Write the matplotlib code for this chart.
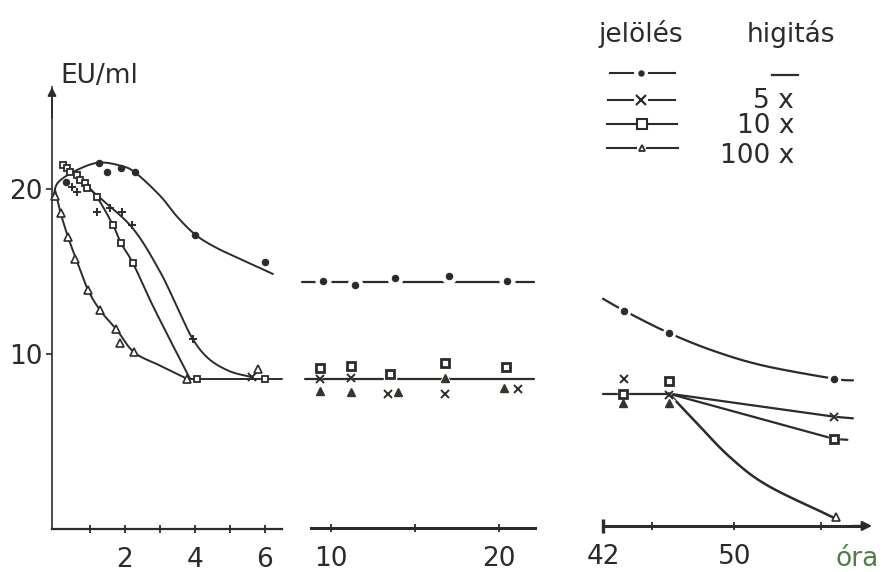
import numpy as np
import matplotlib
matplotlib.use("Agg")
import matplotlib.pyplot as plt

plt.rcParams['font.family'] = ['DejaVu Sans']

FS = 19
INK = '#2a2c28'
GREEN = '#4f7d45'
W, H = 888, 572

# ---------------- measured values: time (óra) and EU/ml ----------------
# undiluted sample (filled circles)
und_t_a = [0.3, 1.25, 1.5, 1.9, 2.3, 4.0, 6.0]
und_v_a = [20.4, 21.6, 21.0, 21.3, 21.0, 17.2, 15.6]
und_t_b = [9.5, 11.4, 13.8, 17.0, 20.5]
und_v_b = [14.4, 14.2, 14.6, 14.7, 14.4]
und_t_c = [43.3, 46.0, 56.1]
und_v_c = [12.6, 11.3, 8.5]

# 5x dilution (crosses)
d5_t_a = [0.5, 0.63, 1.2, 1.57, 1.91, 2.2, 3.94, 5.63]
d5_v_a = [20.1, 19.8, 18.6, 18.85, 18.6, 17.8, 10.9, 8.6]
d5_t_b = [9.35, 11.2, 13.4, 16.8, 21.1]
d5_v_b = [8.5, 8.55, 7.6, 7.6, 7.9]
d5_t_c = [43.3, 46.0, 56.1]
d5_v_c = [8.5, 7.5, 6.2]

# 10x dilution (squares)
d10_t_a = [0.23, 0.34, 0.43, 0.63, 0.71, 0.86, 0.91, 1.2, 1.66, 1.89, 2.23, 4.06, 6.0]
d10_v_a = [21.45, 21.3, 21.0, 20.85, 20.55, 20.35, 20.05, 19.5, 17.8, 16.7, 15.5, 8.5, 8.5]
d10_t_b = [9.35, 11.2, 13.5, 16.8, 20.4]
d10_v_b = [9.15, 9.3, 8.8, 9.45, 9.2]
d10_t_c = [43.2, 46.0, 56.1]
d10_v_c = [7.6, 8.35, 4.85]

# 100x dilution (triangles)
d100_t_a = [0.0, 0.17, 0.37, 0.57, 0.94, 1.29, 1.74, 1.86, 2.26, 3.77, 5.8]
d100_v_a = [19.6, 18.55, 17.1, 15.75, 13.9, 12.65, 11.5, 10.65, 10.1, 8.5, 9.1]
d100_t_b = [9.35, 11.2, 14.0, 16.8, 20.3]
d100_v_b = [7.75, 7.7, 7.7, 8.55, 7.95]
d100_t_c = [43.2, 46.0, 56.2]
d100_v_c = [7.0, 7.0, 0.1]

# ---------------- hand-drawn trend curves (node points) ----------------
und_curve_t_a = [-0.05, 0.09, 0.63, 1.26, 1.89, 2.29, 3.0, 3.5, 4.03, 4.6, 5.2, 6.23]
und_curve_v_a = [19.5, 20.4, 21.15, 21.6, 21.4, 21.0, 19.6, 18.3, 17.2, 16.45, 15.85, 14.85]
d5_curve_t_a = [0.71, 1.29, 2.23, 3.0, 3.5, 3.94, 4.4, 5.0, 5.63]
d5_curve_v_a = [20.5, 19.45, 17.6, 15.0, 12.8, 10.9, 9.7, 8.95, 8.6]
d10_curve_t_a = [0.71, 1.2, 1.66, 1.89, 2.23, 2.71, 3.29, 3.86]
d10_curve_v_a = [20.7, 19.5, 17.8, 16.7, 15.5, 13.3, 10.85, 8.5]
d100_curve_t_a = [0.0, 0.14, 0.37, 0.63, 0.94, 1.29, 1.77, 2.26, 3.0, 3.77]
d100_curve_v_a = [19.95, 18.7, 17.1, 15.6, 13.9, 12.65, 11.45, 10.1, 9.3, 8.5]
plateau_t_a = [3.77, 6.5]
plateau_v_a = [8.5, 8.5]

upper_t_b = [8.27, 22.1]
upper_v_b = [14.35, 14.35]
lower_t_b = [8.45, 22.1]
lower_v_b = [8.5, 8.5]

und_curve_t_c = [42.0, 43.34, 45.96, 48.71, 51.76, 56.09, 57.24]
und_curve_v_c = [13.35, 12.6, 11.3, 10.2, 9.3, 8.5, 8.4]
lower_t_c = [42.0, 46.0]
lower_v_c = [7.6, 7.6]
d5_curve_t_c = [46.0, 56.1, 57.24]
d5_curve_v_c = [7.6, 6.2, 6.1]
d10_curve_t_c = [46.0, 56.1, 56.9]
d10_curve_v_c = [7.6, 4.85, 4.8]
d100_curve_t_c = [46.02, 47.73, 49.74, 52.0, 56.02]
d100_curve_v_c = [7.6, 5.8, 3.75, 2.05, 0.1]

# axis ticks
ticks_a = [1, 2, 3, 4, 5, 6]
labels_a = ['', '2', '', '4', '', '6']
ticks_b = [10, 15, 20]
labels_b = ['10', '', '20']
ticks_c = [42, 45, 50, 55.3]
labels_c = ['42', '', '50', '']
yticks = [10, 20]


def smooth(t, v, n=24):
    """Catmull-Rom curve through the given nodes."""
    P = np.column_stack([np.asarray(t, float), np.asarray(v, float)])
    if len(P) < 3:
        return P[:, 0], P[:, 1]
    P = np.vstack([2 * P[0] - P[1], P, 2 * P[-1] - P[-2]])
    s = np.linspace(0, 1, n, endpoint=False)[:, None]
    out = []
    for i in range(1, len(P) - 2):
        p0, p1, p2, p3 = P[i - 1], P[i], P[i + 1], P[i + 2]
        out.append(0.5 * (2 * p1 + (-p0 + p2) * s
                          + (2 * p0 - 5 * p1 + 4 * p2 - p3) * s ** 2
                          + (-p0 + 3 * p1 - 3 * p2 + p3) * s ** 3))
    out.append(P[-2][None, :])
    out = np.vstack(out)
    return out[:, 0], out[:, 1]


def curve(ax, t, v, lw=1.4, straight=False):
    x, y = (t, v) if straight else smooth(t, v)
    ax.plot(x, y, color=INK, lw=lw, solid_capstyle='round', zorder=2, clip_on=False)


MARK = {
    'dot': dict(marker='o', ms=4.6, mfc=INK, mec=INK, mew=0.8),
    'x': dict(marker='x', ms=5.2, mfc='none', mec=INK, mew=1.4),
    'plus': dict(marker='+', ms=6.0, mfc='none', mec=INK, mew=1.4),
    'sq': dict(marker='s', ms=5.0, mfc='white', mec=INK, mew=1.3),
    'sqb': dict(marker='s', ms=5.6, mfc='white', mec=INK, mew=2.0),
    'tri': dict(marker='^', ms=5.6, mfc='white', mec=INK, mew=1.2),
    'trif': dict(marker='^', ms=5.6, mfc='#2f3a2c', mec='#2f3a2c', mew=1.0),
}


def marks(ax, t, v, kind, halo=0.0):
    if halo:
        ax.plot(t, v, ls='none', marker=MARK[kind]['marker'], ms=MARK[kind]['ms'] + halo,
                mfc='white', mec='white', zorder=3, clip_on=False)
    ax.plot(t, v, ls='none', zorder=4, clip_on=False, **MARK[kind])


def px_box(x0, y0, x1, y1):
    return [x0 / W, 1 - y1 / H, (x1 - x0) / W, (y1 - y0) / H]


fig = plt.figure(figsize=(W / 100, H / 100), dpi=100)
fig.patch.set_facecolor('white')

YLIM = (-0.606, 26.18)

axA = fig.add_axes(px_box(52, 87, 282, 529))
axB = fig.add_axes(px_box(301, 87, 535, 529))
axC = fig.add_axes(px_box(600, 87, 872, 529))
axA.set_xlim(-0.086, 6.49)
axB.set_xlim(8.21, 22.14)
axC.set_xlim(41.82, 58.4)

for ax in (axA, axB, axC):
    ax.set_ylim(*YLIM)
    ax.patch.set_alpha(0)
    for side in ('top', 'right', 'left'):
        ax.spines[side].set_visible(False)
    ax.spines['bottom'].set_color(INK)
    ax.tick_params(axis='x', direction='inout', length=6, width=1.3, colors=INK,
                   labelsize=FS, labelcolor=INK, pad=10)
    ax.set_yticks([])

# left panel axes
axA.spines['left'].set_visible(True)
axA.spines['left'].set_color(INK)
axA.spines['left'].set_linewidth(1.2)
axA.spines['bottom'].set_linewidth(1.6)
axA.set_yticks(yticks)
axA.tick_params(axis='y', direction='out', length=4, width=1.2, colors=INK,
                labelsize=FS, labelcolor=INK, pad=3)
axA.set_xticks(ticks_a, labels_a)
axA.annotate('', xy=(0, 1.0), xycoords='axes fraction', xytext=(0, 0.93),
             arrowprops=dict(arrowstyle='-|>', lw=1.2, color=INK, mutation_scale=13,
                             shrinkA=0, shrinkB=0))

# middle panel axes
axB.spines['bottom'].set_position(('data', -0.55))
axB.spines['bottom'].set_bounds(8.81, 22.14)
axB.spines['bottom'].set_linewidth(2.2)
axB.set_xticks(ticks_b, labels_b)

# right panel axes
axC.spines['bottom'].set_position(('data', -0.42))
axC.spines['bottom'].set_bounds(42.0, 57.6)
axC.spines['bottom'].set_linewidth(2.2)
axC.set_xticks(ticks_c, labels_c)
axC.get_xticklines()[-2].set_color(GREEN)
axC.plot([42.0], [-0.42], marker='|', ms=10, mew=2.4, color=INK, clip_on=False)
axC.annotate('', xy=(58.4, -0.42), xytext=(57.2, -0.42),
             arrowprops=dict(arrowstyle='-|>', lw=1.6, color=INK, mutation_scale=14,
                             shrinkA=0, shrinkB=0), annotation_clip=False)

# ---- left panel: 0-6 h ----
curve(axA, und_curve_t_a, und_curve_v_a)
curve(axA, d5_curve_t_a, d5_curve_v_a)
curve(axA, d10_curve_t_a, d10_curve_v_a)
curve(axA, d100_curve_t_a, d100_curve_v_a)
curve(axA, plateau_t_a, plateau_v_a, straight=True)
marks(axA, und_t_a, und_v_a, 'dot')
marks(axA, d5_t_a[:-1], d5_v_a[:-1], 'plus')
marks(axA, d5_t_a[-1:], d5_v_a[-1:], 'x')
marks(axA, d10_t_a, d10_v_a, 'sq')
marks(axA, d100_t_a, d100_v_a, 'tri')

# ---- middle panel: 8-22 h ----
curve(axB, upper_t_b, upper_v_b, lw=1.6, straight=True)
curve(axB, lower_t_b, lower_v_b, lw=1.6, straight=True)
marks(axB, und_t_b, und_v_b, 'dot', halo=6)
marks(axB, d10_t_b, d10_v_b, 'sqb', halo=3)
marks(axB, d5_t_b, d5_v_b, 'x', halo=4)
marks(axB, d100_t_b, d100_v_b, 'trif', halo=3)

# ---- right panel: 42-57 h ----
curve(axC, und_curve_t_c, und_curve_v_c, lw=1.6)
curve(axC, lower_t_c, lower_v_c, lw=1.6, straight=True)
curve(axC, d5_curve_t_c, d5_curve_v_c, lw=1.6, straight=True)
curve(axC, d10_curve_t_c, d10_curve_v_c, lw=1.6, straight=True)
curve(axC, d100_curve_t_c, d100_curve_v_c, lw=1.8)
marks(axC, und_t_c, und_v_c, 'dot', halo=4)
marks(axC, d5_t_c, d5_v_c, 'x', halo=3)
marks(axC, d10_t_c, d10_v_c, 'sqb', halo=2)
marks(axC, d100_t_c[:2], d100_v_c[:2], 'trif', halo=2)
marks(axC, d100_t_c[2:], d100_v_c[2:], 'tri')

# ---- labels and key, placed in pixel units ----
ov = fig.add_axes([0, 0, 1, 1])
ov.set_xlim(0, W)
ov.set_ylim(H, 0)
ov.axis('off')
ov.patch.set_alpha(0)

ov.text(60, 83, 'EU/ml', fontsize=FS, color=INK, ha='left', va='baseline')
ov.text(857, 566, 'óra', fontsize=FS, color=GREEN, ha='center', va='baseline')

ov.text(598, 42, 'jelölés', fontsize=FS, color=INK, ha='left', va='baseline')
ov.text(747, 42, 'higitás', fontsize=FS, color=INK, ha='left', va='baseline')

key_rows = [
    (73, 'dot', 610, 633, 649, 675),
    (100, 'x', 608, 633, 649, 675),
    (124, 'sq', 607, 636, 648, 677),
    (148, 'tri', 607, 636, 647, 678),
]
key_style = {
    'dot': dict(marker='o', ms=3.6, mfc=INK, mec=INK),
    'x': dict(marker='x', ms=7.5, mec=INK, mew=1.6),
    'sq': dict(marker='s', ms=6.5, mfc='white', mec=INK, mew=1.5),
    'tri': dict(marker='^', ms=5.0, mfc='white', mec=INK, mew=1.3),
}
for y, kind, a0, a1, b0, b1 in key_rows:
    ov.plot([a0, a1], [y, y], color=INK, lw=1.5)
    ov.plot([b0, b1], [y, y], color=INK, lw=1.5)
    ov.plot([(a1 + b0) / 2], [y], ls='none', **key_style[kind])

ov.plot([772, 798], [75, 75], color=INK, lw=1.6)
dilutions = ['5 x', '10 x', '100 x']
for y, txt in zip([101, 126, 156], dilutions):
    ov.text(794, y, txt, fontsize=FS, color=INK, ha='right', va='center')

fig.savefig('out.png', dpi=100, facecolor='white')
